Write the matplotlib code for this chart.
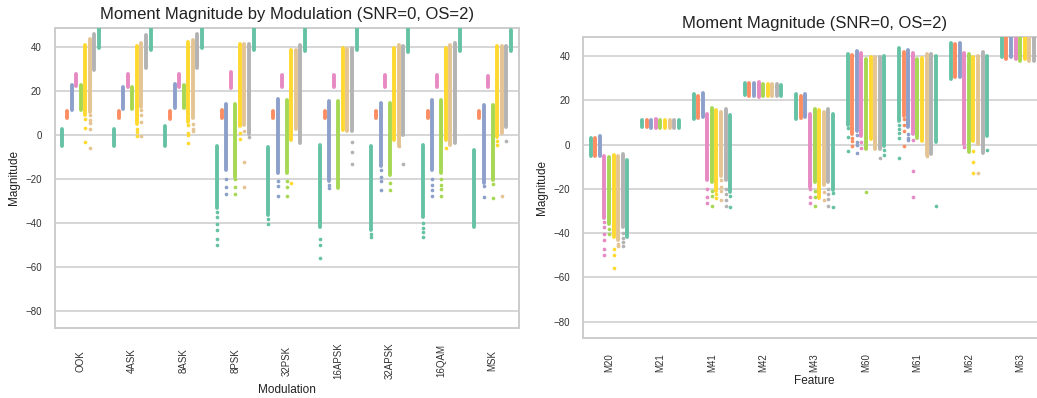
import matplotlib
matplotlib.use("Agg")
import matplotlib.pyplot as plt
import seaborn as sns

modulations = ["OOK", "4ASK", "8ASK", "8PSK", "32PSK", "16APSK", "32APSK", "16QAM", "MSK"]
features = ["M20", "M21", "M41", "M42", "M43", "M60", "M61", "M62", "M63"]

# dense range of each strip (low, high), order follows `features`
ook    = [(-5, 3), (8, 11), (11.5, 23), (22.5, 28), (11.5, 23), (9, 41), (10.5, 43.5), (29.5, 46), (39.5, 52)]
ask4   = [(-5, 3), (8, 11), (12, 22), (22, 28), (12, 22), (5, 40.5), (13, 42), (30.5, 45.5), (38.8, 52)]
ask8   = [(-5, 4), (7.5, 11), (12.3, 23.3), (22, 28), (12.3, 23), (6, 42.5), (8, 43), (30.5, 46), (39.5, 52)]
psk8   = [(-33, -5), (7.7, 11.5), (-16, 14), (21.5, 28.5), (-19, 14), (4, 41.5), (4.7, 41.5), (0.5, 41.5), (38.5, 52)]
psk32  = [(-36, -5.5), (7.7, 11), (-17, 16.4), (22, 27.5), (-17, 16), (-2, 38.8), (3, 38.8), (-3.5, 41), (38, 48)]
apsk16 = [(-41.5, -4.5), (7.7, 11), (-21, 15.5), (22, 27.5), (-24, 15.6), (2.4, 39.5), (1.7, 39), (1.7, 39.5), (38.8, 52)]
apsk32 = [(-43, -5), (7.7, 11), (-14, 14.8), (22, 27.5), (-18, 14.8), (-2, 39.5), (-4.7, 41), (0.2, 40.3), (37.6, 48.3)]
qam16  = [(-37, -4.4), (7.7, 11), (-16, 16), (22, 27.5), (-17, 16), (-2, 39.5), (-4.4, 41), (-3.6, 42), (38, 52)]
msk    = [(-41.5, -6.7), (7.7, 11), (-21.5, 13.5), (21.8, 27), (-20.5, 13.8), (-0.6, 40.3), (1, 40.3), (3.9, 40.3), (38, 47.9)]

# isolated points below/above the dense ranges
ook_dots    = {"M60": [7.5, 3.5, -3], "M61": [9, 7, 5.5, 3, -6]}
ask4_dots   = {"M60": [3, 1.5, -0.5], "M61": [11.5, 9, 6, -0.5]}
ask8_dots   = {"M60": [4.5, 1, 0, -3.7], "M61": [5, 3, 2]}
psk8_dots   = {"M20": [-35, -37, -40.5, -43, -47, -50], "M41": [-20, -23.5, -26.5],
               "M43": [-20, -23.5, -26.5], "M60": [1, -1.5], "M61": [2, -12, -23.5], "M62": [-1]}
psk32_dots  = {"M20": [-38, -40.5], "M41": [-21, -23, -27.6], "M43": [-21, -23.5, -27.5], "M60": [-21.5]}
apsk16_dots = {"M20": [-47, -50, -55.6], "M41": [-22.5, -24], "M62": [-3, -7.8, -13]}
apsk32_dots = {"M20": [-45, -46], "M41": [-16, -19, -21, -25], "M43": [-21.5, -25], "M61": [-5], "M62": [-13]}
qam16_dots  = {"M20": [-40, -42, -44, -46], "M41": [-20, -22.5, -25, -27.5],
               "M43": [-20, -22.5, -24.5, -27.5], "M60": [-6]}
msk_dots    = {"M41": [-23, -28], "M43": [-22, -28.3], "M60": [-2.4, -4.5], "M61": [-27.6], "M62": [-2.5]}

bands = dict(zip(modulations, [ook, ask4, ask8, psk8, psk32, apsk16, apsk32, qam16, msk]))
dots = dict(zip(modulations, [ook_dots, ask4_dots, ask8_dots, psk8_dots, psk32_dots,
                              apsk16_dots, apsk32_dots, qam16_dots, msk_dots]))

sns.set_theme(style="whitegrid")
plt.rcParams["font.family"] = ["Liberation Sans", "DejaVu Sans"]
colors = sns.color_palette("Set2", 9)


def strips(ax, groups, hues, by_mod):
    w = 0.8 / len(hues)
    for i, g in enumerate(groups):
        for j, h in enumerate(hues):
            mod, feat = (g, h) if by_mod else (h, g)
            lo, hi = bands[mod][features.index(feat)]
            x = i + (j - (len(hues) - 1) / 2) * w
            ax.vlines(x, lo, hi, color=colors[j], lw=2.8, capstyle="round", zorder=3)
            pts = dots[mod].get(feat, [])
            if pts:
                ax.scatter([x] * len(pts), pts, s=7, color=colors[j], lw=0, zorder=3)


def style(ax, labels, xlabel, title, pad, lpad):
    ax.set_xlim(-0.5, 8.5)
    ax.set_ylim(-87.5, 48.8)
    ax.set_yticks([-80, -60, -40, -20, 0, 20, 40])
    ax.set_xticks(range(len(labels)))
    ax.set_xticklabels(labels, rotation=90, va="center")
    ax.tick_params(axis="x", length=0, pad=pad, labelsize=7, colors="#333333")
    ax.tick_params(axis="y", length=0, pad=9.5, labelsize=7, colors="#333333")
    ax.grid(axis="x", visible=False)
    ax.grid(axis="y", color="0.8", lw=1.1)
    for s in ax.spines.values():
        s.set_color("0.8")
        s.set_linewidth(1.4)
    ax.set_xlabel(xlabel, fontsize=8.5, labelpad=lpad, color="#222222")
    ax.set_ylabel("Magnitude", fontsize=8.5, color="#222222")
    ax.set_title(title, fontsize=12, color="#222222")


fig = plt.figure(figsize=(10.37, 3.98), dpi=100)
ax1 = fig.add_axes([55 / 1037, 1 - 328 / 398, 463.5 / 1037, 300.3 / 398])
ax2 = fig.add_axes([583.3 / 1037, 1 - 338.3 / 398, 462.6 / 1037, 301.6 / 398])

strips(ax1, modulations, features, True)
style(ax1, modulations, "Modulation", "Moment Magnitude by Modulation (SNR=0, OS=2)", 23.5, 3.5)

strips(ax2, features, modulations, False)
style(ax2, features, "Feature", "Moment Magnitude (SNR=0, OS=2)", 17.4, 2.5)

fig.savefig("out.png", dpi=100)
